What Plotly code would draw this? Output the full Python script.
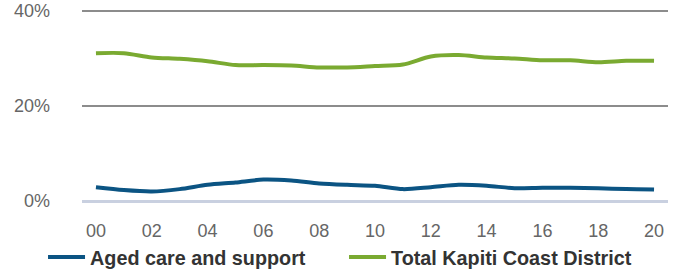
import plotly.graph_objects as go

years = list(range(2000, 2021))
aged_care = [2.9, 2.3, 2.0, 2.5, 3.4, 3.9, 4.5, 4.3, 3.7, 3.4, 3.2,
             2.5, 2.9, 3.4, 3.2, 2.7, 2.8, 2.8, 2.7, 2.5, 2.4]
kapiti_total = [31.1, 31.1, 30.2, 29.9, 29.4, 28.6, 28.6, 28.5, 28.1, 28.1, 28.4,
                28.7, 30.4, 30.7, 30.2, 30.0, 29.6, 29.6, 29.2, 29.5, 29.5]
x_tick_vals = list(range(2000, 2021, 2))
x_tick_text = ["00", "02", "04", "06", "08", "10", "12", "14", "16", "18", "20"]
y_tick_vals = [0, 20, 40]
y_tick_text = ["0%", "20%", "40%"]

FONT = "Liberation Sans, Arial, sans-serif"

fig = go.Figure()
fig.add_trace(go.Scatter(
    x=years, y=aged_care, mode="lines", name="Aged care and support",
    line=dict(color="#0b5483", width=4, shape="spline", smoothing=0.8),
))
fig.add_trace(go.Scatter(
    x=years, y=kapiti_total, mode="lines", name="Total Kapiti Coast District",
    line=dict(color="#7aaa31", width=4, shape="spline", smoothing=0.8),
))

fig.update_layout(
    width=676, height=271,
    margin=dict(l=82, r=8, t=8, b=70, autoexpand=False),
    paper_bgcolor="white", plot_bgcolor="white",
    font=dict(family=FONT, color="#666666", size=18),
    showlegend=True,
    legend=dict(
        orientation="h", x=-0.0665, y=-0.19, xanchor="left", yanchor="top",
        font=dict(family=FONT, size=19.8, color="#333333", weight="bold"),
        entrywidth=249, entrywidthmode="pixels",
        itemwidth=37, tracegroupgap=0,
    ),
    xaxis=dict(
        range=[1999.5, 2020.5], tickvals=x_tick_vals, ticktext=x_tick_text,
        showgrid=False, zeroline=False, showline=False, ticks="",
        ticklabelstandoff=17,
        tickfont=dict(family=FONT, size=18, color="#666666"),
        automargin=False,
    ),
    yaxis=dict(
        range=[0, 40.6], tickvals=y_tick_vals, ticktext=y_tick_text,
        showgrid=True, gridcolor="#8c8c8c", gridwidth=1.5,
        zeroline=True, zerolinecolor="#c9d0e0", zerolinewidth=2.5,
        showline=False, ticks="", ticklabelstandoff=31,
        tickfont=dict(family=FONT, size=18, color="#666666"),
        automargin=False,
    ),
)

fig.write_html(
    "out.html",
    config={"displayModeBar": False},
    post_script="document.body.style.margin='0';document.body.style.overflow='hidden';",
)
